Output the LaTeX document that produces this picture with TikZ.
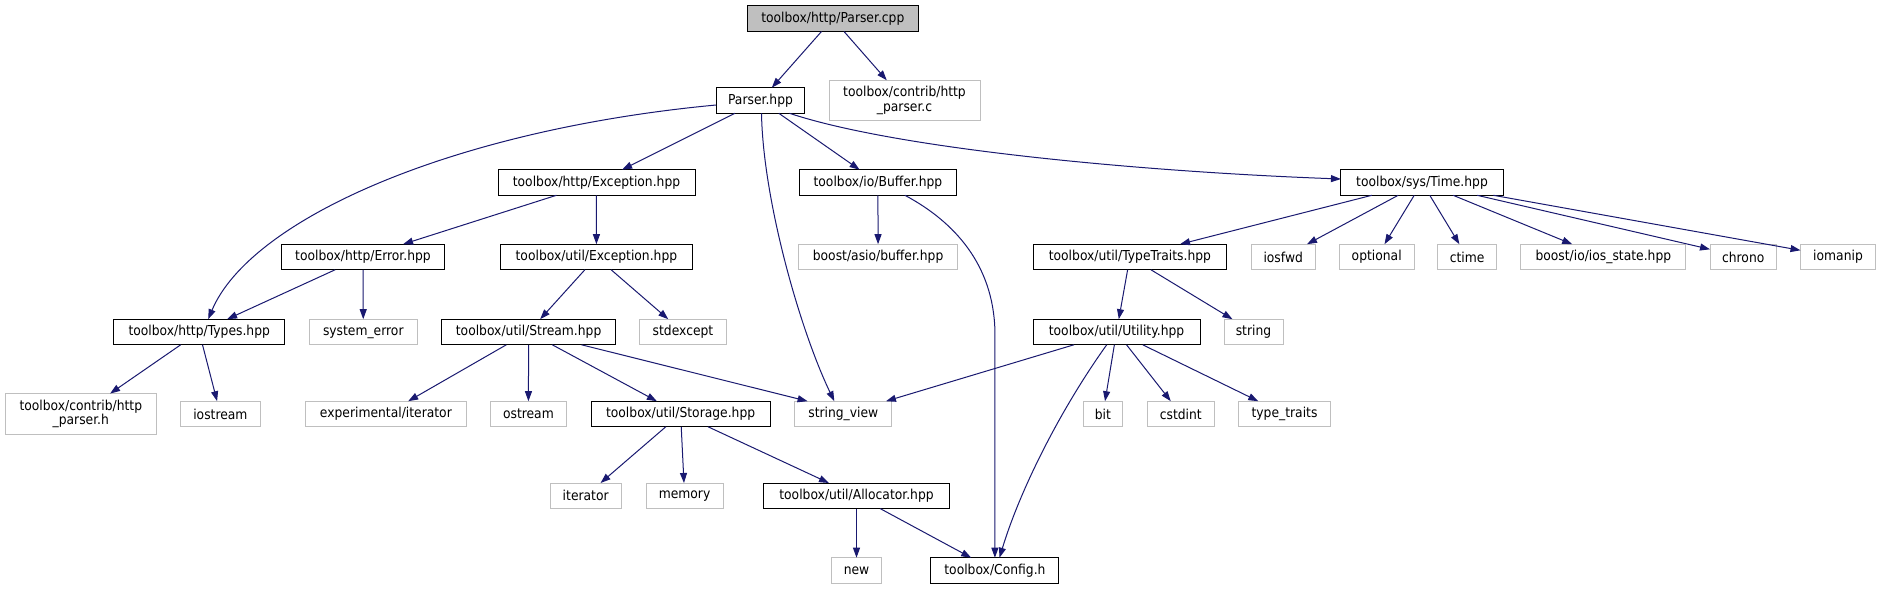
\documentclass[tikz,border=0pt]{standalone}
\usepackage{fontspec}
\setmainfont[FakeStretch=0.9]{DejaVu Sans}
\usetikzlibrary{arrows.meta,calc}
\definecolor{edgec}{HTML}{191970}
\definecolor{grey75}{HTML}{BFBFBF}
\begin{document}
\begin{tikzpicture}[x=1pt,y=-1pt,
  box/.style={draw=black,line width=1pt,rectangle,inner sep=0pt,outer sep=0pt,
    minimum height=25.6pt,font=\fontsize{13.7}{14.4}\selectfont,text=black,align=center},
  ext/.style={box,draw=grey75},
  rootbox/.style={box,fill=grey75},
  tall/.style={minimum height=40.5pt},
  edge/.style={draw=edgec,line width=1pt,-{Triangle[length=10pt,width=7pt,fill=edgec]}}]
\fill[white] (0,0) rectangle (1881,589);
\useasboundingbox (0,0) rectangle (1881,589);

% nodes
\node[rootbox,minimum width=171pt] (root) at (832.8,18.7) {toolbox/http/Parser.cpp};
\node[box,minimum width=88.8pt] (ph) at (760.5,100.5) {Parser.hpp};
\node[ext,tall,minimum width=151pt] (hpc) at (904.5,100.5) {toolbox/contrib/http\\\_parser.c};
\node[box,minimum width=197pt] (hexc) at (596.5,182.5) {toolbox/http/Exception.hpp};
\node[box,minimum width=157.6pt] (buf) at (877.9,182.5) {toolbox/io/Buffer.hpp};
\node[box,minimum width=162.2pt] (time) at (1422,182.5) {toolbox/sys/Time.hpp};
\node[box,minimum width=163pt] (err) at (363,257) {toolbox/http/Error.hpp};
\node[box,minimum width=192pt] (uexc) at (596.4,257) {toolbox/util/Exception.hpp};
\node[ext,minimum width=158.9pt] (abuf) at (878.1,257) {boost/asio/buffer.hpp};
\node[box,minimum width=193.8pt] (tt) at (1129.9,257) {toolbox/util/TypeTraits.hpp};
\node[ext,minimum width=64pt] (iosfwd) at (1283.2,257) {iosfwd};
\node[ext,minimum width=75pt] (optional) at (1376.7,257) {optional};
\node[ext,minimum width=58.4pt] (ctime) at (1467.1,257) {ctime};
\node[ext,minimum width=165pt] (iosstate) at (1603.3,257) {boost/io/ios\_state.hpp};
\node[ext,minimum width=66.4pt] (chrono) at (1743.2,257) {chrono};
\node[ext,minimum width=75pt] (iomanip) at (1838,257) {iomanip};
\node[box,minimum width=170.6pt] (types) at (199.2,332) {toolbox/http/Types.hpp};
\node[ext,minimum width=107.8pt] (syserr) at (363.3,332) {system\_error};
\node[box,minimum width=174.7pt] (stream) at (528.6,332) {toolbox/util/Stream.hpp};
\node[ext,minimum width=86.6pt] (stdexc) at (683,332) {stdexcept};
\node[box,minimum width=167pt] (util) at (1116.5,332) {toolbox/util/Utility.hpp};
\node[ext,minimum width=59pt] (string) at (1253.5,332) {string};
\node[ext,tall,minimum width=151pt] (hph) at (80.8,413.8) {toolbox/contrib/http\\\_parser.h};
\node[ext,minimum width=80pt] (iostream) at (220.4,414) {iostream};
\node[ext,minimum width=161.2pt] (expit) at (385.9,414) {experimental/iterator};
\node[ext,minimum width=76.3pt] (ostream) at (528.4,414) {ostream};
\node[box,minimum width=179pt] (storage) at (680.6,414) {toolbox/util/Storage.hpp};
\node[ext,minimum width=97.3pt] (sv) at (843.3,414) {string\_view};
\node[ext,minimum width=38.8pt] (bit) at (1102.9,414) {bit};
\node[ext,minimum width=67pt] (cstdint) at (1180.8,414) {cstdint};
\node[ext,minimum width=92pt] (typetraits) at (1284.5,414) {type\_traits};
\node[ext,minimum width=71pt] (iterator) at (585.7,495.8) {iterator};
\node[ext,minimum width=77.2pt] (memory) at (684.6,495.8) {memory};
\node[box,minimum width=185.3pt] (alloc) at (856.5,495.8) {toolbox/util/Allocator.hpp};
\node[ext,minimum width=49.6pt] (new) at (856.5,570.5) {new};
\node[box,minimum width=128pt] (cfg) at (994.9,570.5) {toolbox/Config.h};

% edges
\draw[edge] (root) -- (ph);
\draw[edge] (root) -- (hpc);
\draw[edge] ([shift={(0,4.5)}]ph.west) .. controls (450,130) and (250,220) .. ([shift={(9,0)}]types.north);
\draw[edge] (ph) -- (hexc);
\draw[edge] ([shift={(1,0)}]ph.south) .. controls (763,200) and (800,330) .. ([shift={(-9,0)}]sv.north);
\draw[edge] (ph) -- (buf);
\draw[edge] ([shift={(29,0)}]ph.south) .. controls (900,150) and (1150,172) .. ([shift={(0,-3.5)}]time.west);
\draw[edge] (hexc) -- (err);
\draw[edge] (hexc) -- (uexc);
\draw[edge] (err) -- (types);
\draw[edge] (err) -- (syserr);
\draw[edge] (uexc) -- (stream);
\draw[edge] (uexc) -- (stdexc);
\draw[edge] (types) -- (hph);
\draw[edge] (types) -- (iostream);
\draw[edge] (stream) -- (expit);
\draw[edge] (stream) -- (ostream);
\draw[edge] (stream) -- (storage);
\draw[edge] ([shift={(53,0)}]stream.south) -- ([shift={(-35.7,0)}]sv.north);
\draw[edge] (storage) -- (iterator);
\draw[edge] (storage) -- (memory);
\draw[edge] (storage) -- (alloc);
\draw[edge] (alloc) -- (new);
\draw[edge] (alloc) -- (cfg);
\draw[edge] (buf) -- (abuf);
\draw[edge] ([shift={(27,0)}]buf.south) .. controls (955,222) and (993,265) .. (cfg.north |- 0,330) -- (cfg.north);
\draw[edge] (time) -- (tt);
\draw[edge] (time) -- (iosfwd);
\draw[edge] (time) -- (optional);
\draw[edge] (time) -- (ctime);
\draw[edge] (time) -- (iosstate);
\draw[edge] (time) -- (chrono);
\draw[edge] (time) -- (iomanip);
\draw[edge] (tt) -- (util);
\draw[edge] (tt) -- (string);
\draw[edge] (util) -- (sv);
\draw[edge] (util) -- (bit);
\draw[edge] (util) -- (cstdint);
\draw[edge] (util) -- (typetraits);
\draw[edge] ([shift={(-9.8,0)}]util.south) .. controls (1060,410) and (1020,490) .. ([shift={(4.6,0)}]cfg.north);
\end{tikzpicture}
\end{document}
